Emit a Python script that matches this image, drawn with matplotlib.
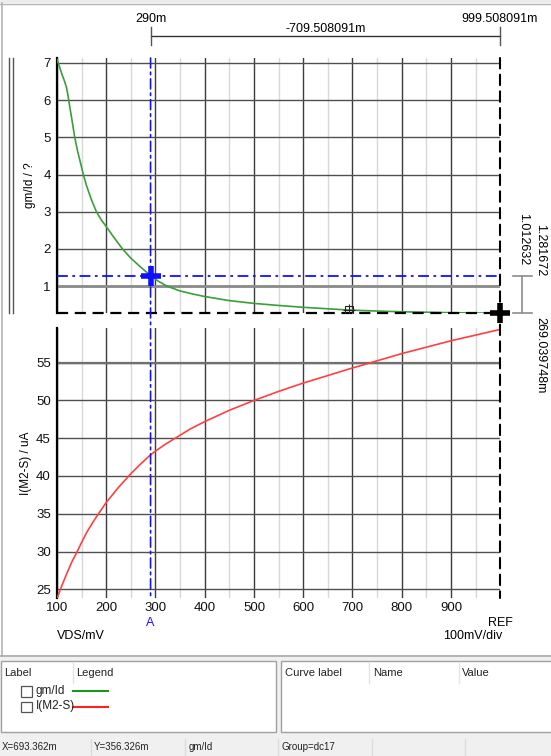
import matplotlib
matplotlib.use("Agg")
import matplotlib.pyplot as plt
from matplotlib.patches import Rectangle, ConnectionPatch
from matplotlib.transforms import blended_transform_factory

plt.rcParams['font.family'] = ['Liberation Sans', 'DejaVu Sans']

# VDS sweep in mV
vds_gm = [100, 105, 110, 115, 119, 122, 125, 130, 136, 142, 148, 153.5, 160, 170, 180,
          190, 200, 215, 233, 250, 270, 290, 305, 323, 350, 375, 400, 450, 500, 550,
          600, 650, 693.362, 750, 800, 900, 999.508]
gm_id = [7.1, 6.9, 6.7, 6.52, 6.36, 6.15, 5.9, 5.5, 5.0, 4.62, 4.3, 4.0, 3.7, 3.32, 3.0,
         2.78, 2.6, 2.32, 2.0, 1.75, 1.51, 1.2817, 1.14, 1.0, 0.87, 0.79, 0.72, 0.61,
         0.535, 0.48, 0.43, 0.39, 0.3563, 0.33, 0.31, 0.285, 0.269]

vds_i = [100, 110, 120, 130, 141, 150, 160, 175, 200, 225, 250, 270, 290, 300, 320, 340,
         370, 400, 450, 500, 550, 600, 650, 700, 737, 800, 850, 900, 950, 999.508]
i_m2s = [23.8, 25.5, 27.1, 28.6, 30.0, 31.2, 32.5, 34.1, 36.5, 38.5, 40.3, 41.6, 42.8,
         43.3, 44.2, 45.0, 46.2, 47.2, 48.7, 50.0, 51.2, 52.3, 53.3, 54.3, 55.0, 56.2,
         57.05, 57.9, 58.65, 59.4]

x_ticks = [100, 200, 300, 400, 500, 600, 700, 800, 900]
gm_ticks = [1, 2, 3, 4, 5, 6, 7]
i_ticks = [25, 30, 35, 40, 45, 50, 55]

cursor_a_x = 290.0
cursor_a_y = 1.281672
ref_x = 999.508091
ref_y = 0.269039748
marker_x = 693.362
marker_y = 0.356326

W, H = 551, 756
fig = plt.figure(figsize=(W / 100, H / 100), dpi=100)
fig.patch.set_facecolor('white')


def px_rect(l, t, r, b):
    return [l / W, 1 - b / H, (r - l) / W, (b - t) / H]


# overlay in pixel coordinates for the window chrome
ov = fig.add_axes([0, 0, 1, 1], zorder=0)
ov.set_xlim(0, W)
ov.set_ylim(H, 0)
ov.axis('off')

ov.add_patch(Rectangle((0, 0), W, 3, color='#ececec', lw=0))
ov.plot([0, W], [3.5, 3.5], color='#b4b4b4', lw=1)
ov.plot([1.5, 1.5], [3, 655], color='#b4b4b4', lw=1.2)
ov.add_patch(Rectangle((0, 655), W, H - 655, color='#f0f0f0', lw=0))
ov.plot([0, W], [655.5, 655.5], color='#a8a8a8', lw=1.2)
ov.add_patch(Rectangle((1, 661), 275, 71, facecolor='white', edgecolor='#a0a0a0', lw=1))
ov.add_patch(Rectangle((281, 661), 280, 71, facecolor='white', edgecolor='#a0a0a0', lw=1))

fs_ui = 8
ov.text(4, 673, 'Label', fontsize=fs_ui, va='center', ha='left', color='#222222')
ov.text(76, 673, 'Legend', fontsize=fs_ui, va='center', ha='left', color='#222222')
ov.plot([72.5, 72.5], [662, 683], color='#e4e4e4', lw=1)
ov.text(285, 673, 'Curve label', fontsize=fs_ui, va='center', ha='left', color='#222222')
ov.text(373, 673, 'Name', fontsize=fs_ui, va='center', ha='left', color='#222222')
ov.text(462, 673, 'Value', fontsize=fs_ui, va='center', ha='left', color='#222222')
for sx in [369, 458.5]:
    ov.plot([sx, sx], [662, 683], color='#e4e4e4', lw=1)

for row_y, name, col in [(691, 'gm/Id', '#1e961e'), (706.5, 'I(M2-S)', '#ff2020')]:
    ov.add_patch(Rectangle((21, row_y - 5), 10.5, 10.5, facecolor='white',
                           edgecolor='#555555', lw=0.9))
    ov.text(36, row_y, name, fontsize=8.5, va='center', ha='left', color='#222222')
    ov.plot([73, 108], [row_y, row_y], color=col, lw=1.5)

fs_st = 7
ov.text(2, 747, f'X={marker_x:g}m', fontsize=fs_st, va='center', ha='left', color='#222222')
ov.text(94, 747, f'Y={marker_y * 1000:g}m', fontsize=fs_st, va='center', ha='left', color='#222222')
ov.text(189, 747, 'gm/Id', fontsize=fs_st, va='center', ha='left', color='#222222')
ov.text(281, 747, 'Group=dc17', fontsize=fs_st, va='center', ha='left', color='#222222')
for sx in [91, 184.5, 277.5, 372, 464.5]:
    ov.plot([sx, sx], [739, 755], color='#dcdcdc', lw=1)

# double rule left of the upper plot
ov.plot([9, 9], [58, 313], color='#555555', lw=1)
ov.plot([12.5, 12.5], [58, 313], color='#555555', lw=1)

# plot areas
ax1 = fig.add_axes(px_rect(57, 58, 500, 313.3), zorder=2)
ax2 = fig.add_axes(px_rect(57, 328, 500, 598), zorder=2)
for ax in (ax1, ax2):
    ax.set_facecolor('none')
    ax.set_xlim(100, ref_x)
    ax.set_xticks(x_ticks)
    ax.set_xticks([150, 250, 350, 450, 550, 650, 750, 850, 950], minor=True)
    ax.grid(axis='x', which='major', color='#3c3c3c', lw=1)
    ax.grid(axis='x', which='minor', color='#d8d8d8', lw=1)
    ax.grid(axis='y', which='major', color='#505050', lw=1)
    ax.set_axisbelow(True)
    for s in ['top', 'right', 'bottom']:
        ax.spines[s].set_visible(False)
    ax.spines['left'].set_color('black')
    ax.spines['left'].set_linewidth(1.6)
    ax.tick_params(which='both', length=0, labelsize=9.5, colors='#111111')
    ax.tick_params(axis='y', pad=4.5)

ax1.set_ylim(ref_y, 7.134)
ax1.set_yticks(gm_ticks)
ax1.tick_params(axis='x', labelbottom=False)
ax1.axhline(1, color='#8c8c8c', lw=2, zorder=0.9)
ax1.plot(vds_gm, gm_id, color='#3a9e3a', lw=1.2, zorder=3)
ax1.set_ylabel('gm/Id / ?', fontsize=8.5, labelpad=5)

ax2.set_ylim(23.85, 59.59)
ax2.set_yticks(i_ticks)
ax2.tick_params(axis='x', pad=3)
ax2.axhline(55, color='#707070', lw=1.6, zorder=0.9)
ax2.plot(vds_i, i_m2s, color='#ff4040', lw=1.2, zorder=3)
ax2.set_ylabel('I(M2-S) / uA', fontsize=8.5, labelpad=3)

# cursor A (blue) and REF cursor (black)
blue = '#1010ff'
ax1.axhline(cursor_a_y, color=blue, lw=1.3, ls=(0, (6, 2.5, 1.5, 2.5)), zorder=4)
ax1.axhline(ref_y, color='black', lw=1.6, ls=(0, (5, 3)), zorder=4, clip_on=False)
for x0, col, ls in [(cursor_a_x, blue, (0, (6, 2.5, 1.5, 2.5))), (ref_x, 'black', (0, (5, 3)))]:
    con = ConnectionPatch(xyA=(x0, 7.134), coordsA=ax1.transData,
                          xyB=(x0, 23.85), coordsB=ax2.transData,
                          color=col, lw=1.5 if col == 'black' else 1.2, ls=ls, zorder=5)
    fig.add_artist(con)

ax1.plot([cursor_a_x], [cursor_a_y], marker='+', ms=14, mew=4, color=blue, zorder=6)
ax1.plot([ref_x], [ref_y], marker='+', ms=14, mew=4, color='black', zorder=6, clip_on=False)
ax1.plot([marker_x], [marker_y], marker='s', ms=6, mfc='none', mec='#222222', mew=0.8, zorder=6)
ax1.plot([marker_x], [marker_y], marker='+', ms=9, mec='#222222', mew=0.8, zorder=6)

# readouts above the plot
top = blended_transform_factory(ax1.transData, ov.transData)
fs_r = 9
ov.text(cursor_a_x, 19, f'{cursor_a_x:g}m', transform=top, ha='center', va='center', fontsize=fs_r)
ov.text(ref_x, 19, f'{ref_x:.6f}m', transform=top, ha='center', va='center', fontsize=fs_r)
ov.text((cursor_a_x + ref_x) / 2, 29, f'{cursor_a_x - ref_x:.6f}m', transform=top,
        ha='center', va='center', fontsize=fs_r)
ov.plot([cursor_a_x, ref_x], [35.7, 35.7], transform=top, color='#333333', lw=1)
for x0 in [cursor_a_x, ref_x]:
    ov.plot([x0, x0], [27, 45], transform=top, color='#555555', lw=1)

# readouts right of the plot
side = blended_transform_factory(ov.transData, ax1.transData)
ov.plot([522, 522], [ref_y, cursor_a_y], transform=side, color='#8c8c8c', lw=1.2)
for y0 in [ref_y, cursor_a_y]:
    ov.plot([513, 532], [y0, y0], transform=side, color='#8c8c8c', lw=1.2)
ov.text(523.5, 239, f'{cursor_a_y - ref_y:.6f}', rotation=-90, ha='center', va='center', fontsize=fs_r)
ov.text(540, 250, f'{cursor_a_y:.6f}', rotation=-90, ha='center', va='center', fontsize=fs_r)
ov.text(540, 317, f'{ref_y * 1000:.6f}m', rotation=-90, ha='center', va='top', fontsize=fs_r)

# labels under the x axis
ov.text(cursor_a_x, 623, 'A', transform=top, color=blue, ha='center', va='center', fontsize=fs_r)
ov.text(ref_x, 623, 'REF', transform=top, ha='center', va='center', fontsize=fs_r)
ov.text(57, 636, 'VDS/mV', ha='left', va='center', fontsize=fs_r)
ov.text(502, 636, '100mV/div', ha='right', va='center', fontsize=fs_r)

fig.savefig('out.png', dpi=100, facecolor=fig.get_facecolor())
